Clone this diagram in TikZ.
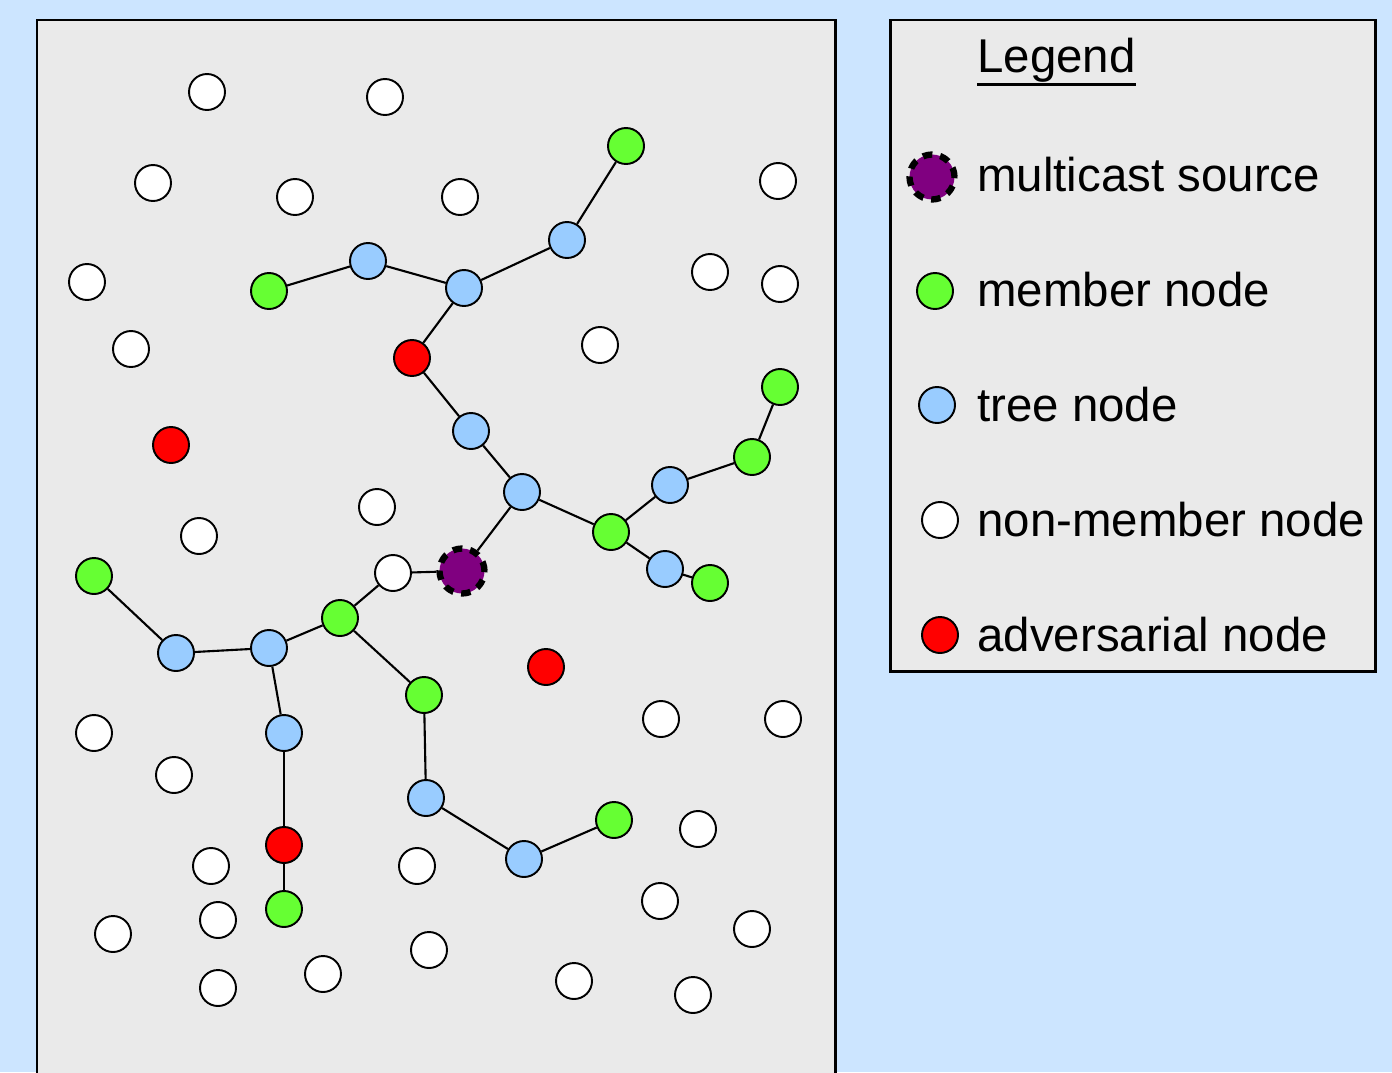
\documentclass[tikz,border=0pt]{standalone}
\usepackage{fontspec}
\setmainfont{Liberation Sans}
\usetikzlibrary{positioning}
\definecolor{SkyBack}{RGB}{204,229,255}
\definecolor{PanelGray}{RGB}{234,234,234}
\definecolor{MemberGreen}{RGB}{102,255,51}
\definecolor{TreeBlue}{RGB}{153,204,255}
\definecolor{AdvRed}{RGB}{255,0,0}
\definecolor{SourcePurple}{RGB}{128,0,128}
\tikzset{
  panel/.style={draw=black,fill=PanelGray,line width=1.7pt},
  plain/.style={circle,draw=black,line width=1.1pt,minimum size=0.72cm,inner sep=0pt},
  nonmember/.style={plain,fill=white},
  member/.style={plain,fill=MemberGreen},
  treenode/.style={plain,fill=TreeBlue},
  adversary/.style={plain,fill=AdvRed},
  source/.style={circle,draw=black,fill=SourcePurple,line width=3.6pt,
    dash pattern=on 0.19cm off 0.16cm,minimum size=0.9cm,inner sep=0pt},
  link/.style={draw=black,line width=1.2pt},
  legendtext/.style={anchor=west,inner sep=0pt,font=\fontsize{27}{32}\selectfont}
}
\begin{document}
\begin{tikzpicture}[x=0.02cm,y=-0.02cm]
  % page and panels
  \fill[SkyBack] (0,0) rectangle (1392,1072);
  \useasboundingbox (0,0) rectangle (1392,1072);
  \begin{scope}
    \clip (0,0) rectangle (1392,1072);
    \draw[panel] (37,20) rectangle (835,1090);
  \end{scope}
  \draw[panel] (890,20) rectangle (1375,671);

  % nodes
  \node[source] (src) at (462,571) {};
  % non-member nodes
  \node[nonmember] (w1) at (207,92) {};
  \node[nonmember] (w2) at (385,97) {};
  \node[nonmember] (w3) at (153,183) {};
  \node[nonmember] (w4) at (295,197) {};
  \node[nonmember] (w5) at (460,197) {};
  \node[nonmember] (w6) at (778,181) {};
  \node[nonmember] (w7) at (87,282) {};
  \node[nonmember] (w8) at (710,272) {};
  \node[nonmember] (w9) at (780,284) {};
  \node[nonmember] (w10) at (131,349) {};
  \node[nonmember] (w11) at (600,345) {};
  \node[nonmember] (w12) at (377,507) {};
  \node[nonmember] (w13) at (199,536) {};
  \node[nonmember] (relay) at (393,573) {};
  \node[nonmember] (w14) at (661,719) {};
  \node[nonmember] (w15) at (783,719) {};
  \node[nonmember] (w16) at (94,733) {};
  \node[nonmember] (w17) at (174,775) {};
  \node[nonmember] (w18) at (698,829) {};
  \node[nonmember] (w19) at (211,866) {};
  \node[nonmember] (w20) at (417,866) {};
  \node[nonmember] (w21) at (660,901) {};
  \node[nonmember] (w22) at (218,920) {};
  \node[nonmember] (w23) at (113,934) {};
  \node[nonmember] (w24) at (752,929) {};
  \node[nonmember] (w25) at (429,950) {};
  \node[nonmember] (w26) at (323,974) {};
  \node[nonmember] (w27) at (218,988) {};
  \node[nonmember] (w28) at (574,981) {};
  \node[nonmember] (w29) at (693,995) {};
  % member nodes
  \node[member] (g1) at (626,146) {};
  \node[member] (g2) at (269,291) {};
  \node[member] (g3) at (780,387) {};
  \node[member] (g4) at (752,457) {};
  \node[member] (g5) at (611,532) {};
  \node[member] (g6) at (710,583) {};
  \node[member] (g7) at (94,576) {};
  \node[member] (g8) at (340,618) {};
  \node[member] (g9) at (424,695) {};
  \node[member] (g10) at (614,820) {};
  \node[member] (g11) at (284,909) {};
  % tree nodes
  \node[treenode] (b1) at (368,261) {};
  \node[treenode] (b2) at (464,288) {};
  \node[treenode] (b3) at (567,240) {};
  \node[treenode] (b4) at (471,431) {};
  \node[treenode] (b5) at (522,492) {};
  \node[treenode] (b6) at (670,485) {};
  \node[treenode] (b7) at (665,569) {};
  \node[treenode] (b8) at (176,653) {};
  \node[treenode] (b9) at (269,648) {};
  \node[treenode] (b10) at (284,733) {};
  \node[treenode] (b11) at (426,798) {};
  \node[treenode] (b12) at (524,859) {};
  % adversarial nodes
  \node[adversary] (r1) at (412,358) {};
  \node[adversary] (r2) at (171,445) {};
  \node[adversary] (r3) at (546,667) {};
  \node[adversary] (r4) at (284,845) {};

  % tree links
  \draw[link] (g2) -- (b1);
  \draw[link] (b1) -- (b2);
  \draw[link] (b2) -- (b3);
  \draw[link] (b3) -- (g1);
  \draw[link] (b2) -- (r1);
  \draw[link] (r1) -- (b4);
  \draw[link] (b4) -- (b5);
  \draw[link] (b5) -- (src);
  \draw[link] (b5) -- (g5);
  \draw[link] (g5) -- (b6);
  \draw[link] (b6) -- (g4);
  \draw[link] (g4) -- (g3);
  \draw[link] (g5) -- (b7);
  \draw[link] (b7) -- (g6);
  \draw[link] (src) -- (relay);
  \draw[link] (relay) -- (g8);
  \draw[link] (g8) -- (b9);
  \draw[link] (b9) -- (b8);
  \draw[link] (b8) -- (g7);
  \draw[link] (b9) -- (b10);
  \draw[link] (b10) -- (r4);
  \draw[link] (r4) -- (g11);
  \draw[link] (g8) -- (g9);
  \draw[link] (g9) -- (b11);
  \draw[link] (b11) -- (b12);
  \draw[link] (b12) -- (g10);

  % legend
  \node[legendtext] (legtitle) at (977,60) {Legend};
  \draw[line width=1.7pt] ([yshift=-1pt]legtitle.south west) -- ([yshift=-1pt]legtitle.south east);
  \node[source] (keysrc) at (932,177) {};
  \node[legendtext] (keysrctext) at (977,175) {multicast source};
  \node[member] (keymember) at (935,291) {};
  \node[legendtext] (keymembertext) at (977,290) {member node};
  \node[treenode] (keytree) at (937,405) {};
  \node[legendtext] (keytreetext) at (977,405) {tree node};
  \node[nonmember] (keynon) at (940,520) {};
  \node[legendtext] (keynontext) at (977,520) {non-member node};
  \node[adversary] (keyadv) at (940,635) {};
  \node[legendtext] (keyadvtext) at (977,635) {adversarial node};
\end{tikzpicture}
\end{document}
